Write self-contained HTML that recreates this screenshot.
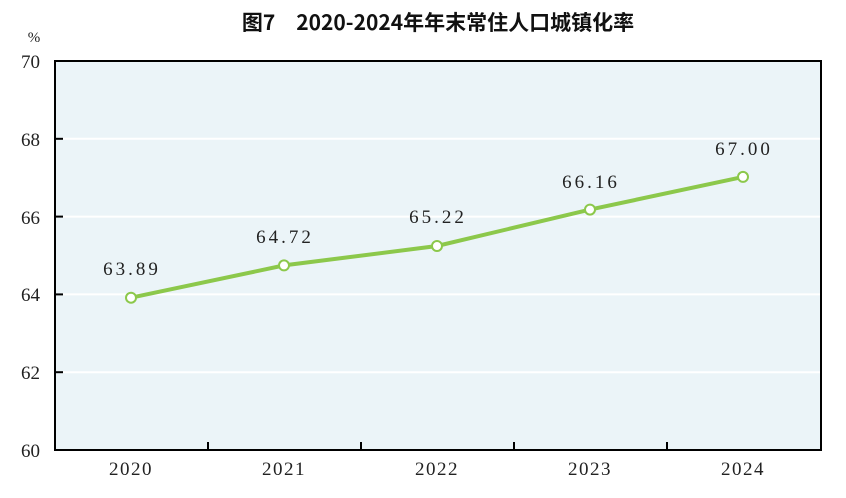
<!DOCTYPE html>
<html><head><meta charset="utf-8"><style>
body{margin:0;background:#fff;width:846px;height:493px;overflow:hidden}
svg text{font-family:"Liberation Serif","Noto Serif CJK SC",serif}
</style></head><body>
<svg width="846" height="493" xmlns="http://www.w3.org/2000/svg">
<text x="438" y="30" text-anchor="middle" font-size="21" font-weight="bold" style="font-family:'Noto Sans CJK SC','Liberation Sans',sans-serif" fill="#111">图7　2020-2024年年末常住人口城镇化率</text>
<rect x="55" y="61" width="766" height="389" fill="#ebf4f8"/>
<g stroke="#fff" stroke-width="2">
<line x1="55" x2="821" y1="138.8" y2="138.8"/>
<line x1="55" x2="821" y1="216.6" y2="216.6"/>
<line x1="55" x2="821" y1="294.4" y2="294.4"/>
<line x1="55" x2="821" y1="372.2" y2="372.2"/>
</g>
<rect x="55" y="61" width="766" height="389" fill="none" stroke="#000" stroke-width="2"/>
<g stroke="#000" stroke-width="2">
<line x1="55" x2="63" y1="138.8" y2="138.8"/>
<line x1="55" x2="63" y1="216.6" y2="216.6"/>
<line x1="55" x2="63" y1="294.4" y2="294.4"/>
<line x1="55" x2="63" y1="372.2" y2="372.2"/>
<line x1="208" x2="208" y1="442" y2="450"/>
<line x1="361" x2="361" y1="442" y2="450"/>
<line x1="514" x2="514" y1="442" y2="450"/>
<line x1="667" x2="667" y1="442" y2="450"/>
</g>
<g font-size="19" fill="#222" text-anchor="end">
<text x="40" y="68">70</text><text x="40" y="146">68</text><text x="40" y="224">66</text>
<text x="40" y="301">64</text><text x="40" y="379">62</text><text x="40" y="457">60</text>
</g>
<text x="34" y="42" font-size="15" fill="#222" text-anchor="middle">%</text>
<g font-size="19" fill="#222" text-anchor="middle" letter-spacing="1.5">
<text x="131" y="475">2020</text><text x="284" y="475">2021</text><text x="437" y="475">2022</text>
<text x="590" y="475">2023</text><text x="743" y="475">2024</text>
</g>
<polyline points="131,297.7 284,265.4 437,246 590,209.6 743,176.9" fill="none" stroke="#8cc84b" stroke-width="4"/>
<g fill="#fff" stroke="#8cc84b" stroke-width="2">
<circle cx="131" cy="297.7" r="5"/><circle cx="284" cy="265.4" r="5"/><circle cx="437" cy="246" r="5"/>
<circle cx="590" cy="209.6" r="5"/><circle cx="743" cy="176.9" r="5"/>
</g>
<g font-size="19" fill="#222" text-anchor="middle" letter-spacing="3">
<text x="132" y="275">63.89</text><text x="285" y="243">64.72</text><text x="438" y="223">65.22</text>
<text x="591" y="188">66.16</text><text x="744" y="155">67.00</text>
</g>
</svg>
</body></html>
